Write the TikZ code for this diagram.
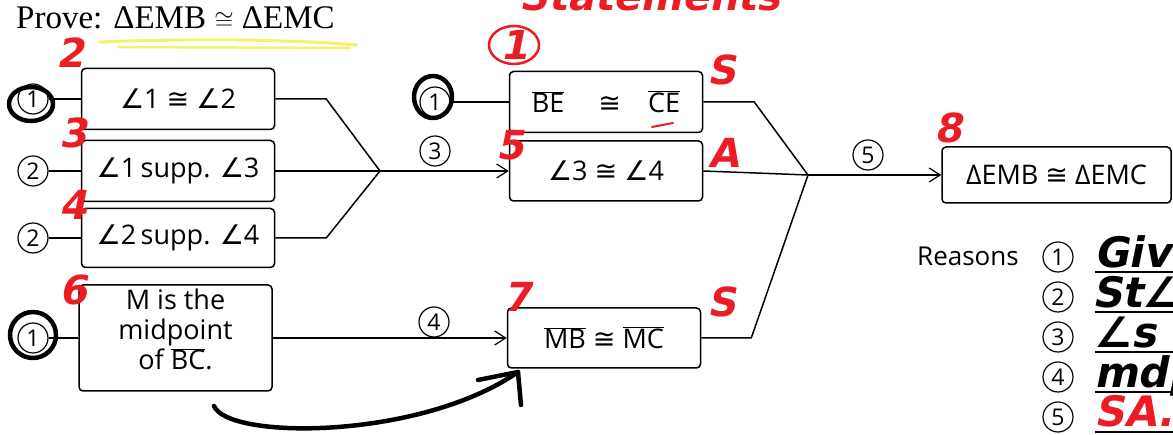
\documentclass[tikz,border=0pt]{standalone}
\usepackage{fontspec}
\setmainfont{Open Sans}
\newfontfamily\provefont{Liberation Serif}
\newfontfamily\glyphfont{DejaVu Sans}
\newfontfamily\handfont[FakeSlant=0.2]{DejaVu Sans}
\usetikzlibrary{arrows.meta}

\definecolor{inkred}{RGB}{236,28,36}
\definecolor{marker}{RGB}{246,240,110}
\newcommand\ang{{\glyphfont ∠}}
\newcommand\cng{{\glyphfont ≅}}
\newcommand\seg[1]{\ensuremath{\overline{\hbox{#1}}}}

\tikzset{
  stmt/.style={draw, line width=1.5pt, rounded corners=4pt, minimum width=193pt,
    minimum height=61pt, inner sep=2pt, align=center, font=\fontsize{27}{30}\selectfont},
  rsn/.style={circle, draw, line width=1.2pt, minimum size=30pt, inner sep=0pt,
    font=\fontsize{23}{23}\selectfont},
  flow/.style={line width=1.5pt},
  flowarrow/.style={flow, -{Straight Barb[length=11pt,width=14pt,line width=1.2pt]}},
  inkmark/.style={text=inkred, inner sep=0pt, font=\handfont\bfseries\fontsize{40}{40}\selectfont},
  inkword/.style={inner sep=0pt, anchor=base west, font=\handfont\bfseries\fontsize{42}{42}\selectfont},
  pen/.style={line width=4.5pt, line cap=round, line join=round},
}

\begin{document}
\begin{tikzpicture}[x=1pt,y=1pt]
\useasboundingbox (0,0) rectangle (1173,435);
\clip (0,0) rectangle (1173,435);

% what is to be proved
\draw[marker, line width=3pt, line cap=round] (100,393) .. controls (200,397) and (300,395) .. (357,390);
\draw[marker, line width=2.5pt, line cap=round] (118,388) -- (350,387);
\node[anchor=base west, inner sep=0pt, font=\provefont\fontsize{33}{33}\selectfont] (prove)
  at (16,406) {Prove: ΔEMB $\cong$ ΔEMC};

% statements
\node[stmt] (ang12) at (178,336) {\ang1 \cng{} \ang2};
\node[stmt] (supp13) at (178,264) {\ang1\,supp. \ang3};
\node[stmt, minimum height=59pt] (supp24) at (178,197) {\ang2\,supp. \ang4};
\node[stmt, minimum height=106pt, text depth=17pt] (midpt) at (175.5,97)
  {M is the\\midpoint\\of \seg{BC}.};
\node[stmt] (segBE) at (606,333) {\seg{BE} \quad\cng\quad \seg{CE}};
\node[stmt, minimum height=60pt] (ang34) at (606,264) {\ang3 \cng{} \ang4};
\node[stmt, minimum height=60pt] (segMB) at (604,97) {\seg{MB} \cng{} \seg{MC}};
\node[stmt, minimum width=229pt, minimum height=56pt] (tri) at (1056.5,260) {ΔEMB \cng{} ΔEMC};

% given facts and theorems on the left
\node[rsn] (g1) at (33,336) {1};
\node[rsn] (s1) at (33,264) {2};
\node[rsn] (s2) at (33,197) {2};
\node[rsn] (g2) at (33,97) {1};
\node[rsn] (g3) at (435,333) {1};
\draw[flow] (g1) -- (ang12);
\draw[flow] (s1) -- (supp13);
\draw[flow] (s2) -- (supp24);
\draw[flow] (g2) -- (midpt);
\draw[flow] (g3) -- (segBE);

% first merge
\coordinate (j1) at (380,264);
\draw[flow] (ang12.east) -- ++(51,0) -- (j1);
\draw[flow] (supp13.east) -- (j1);
\draw[flow] (supp24.east) -- ++(51,0) -- (j1);
\draw[flowarrow] (j1) -- (ang34.west);
\node[rsn] (r3) at (435,284) {3};

\draw[flowarrow] (midpt.east) -- (segMB.west);
\node[rsn] (r4) at (434,113) {4};

% second merge
\coordinate (j2) at (808,260);
\draw[flow] (segBE.east) -- ++(51,0) -- (j2);
\draw[flow] (ang34.east) -- (j2);
\draw[flow] (segMB.east) -- ++(50,0) -- (j2);
\draw[flowarrow] (j2) -- (tri.west);
\node[rsn] (r5) at (868,280) {5};

% reasons
\node[anchor=base west, inner sep=0pt, font=\fontsize{26}{26}\selectfont] (rlabel) at (917,169) {Reasons};
\foreach \k/\y in {1/178,2/138,3/98,4/58,5/18}{
  \node[rsn] (key\k) at (1058,\y) {\k};
  \draw[line width=1.5pt] (1095,\y-15) -- (1173,\y-15);
}
\node[inkword] (w1) at (1094,167) {Giv};
\node[inkword] (w2) at (1092,127) {St\ang};
\node[inkword] (w3) at (1094,87) {\ang s S};
\node[inkword] (w4) at (1094,47) {mdp};
\node[inkword, text=inkred] (w5) at (1094,8) {SA.};

% red marks
\node[inkmark, anchor=base] (head) at (650,424) {Statements};
\node[inkmark] (n2) at (70,382) {2};
\node[inkmark] (n3) at (73,302) {3};
\node[inkmark] (n4) at (73,230) {4};
\node[inkmark] (n6) at (73,145) {6};
\node[inkmark] (n1) at (514,390) {1};
\draw[inkred, line width=2.5pt] (n1) ellipse (25pt and 19pt);
\node[inkmark] (nS1) at (722,365) {S};
\node[inkmark] (n5) at (510,290) {5};
\node[inkmark] (nA) at (724,282) {A};
\node[inkmark] (n7) at (517,138) {7};
\node[inkmark] (nS2) at (722,133) {S};
\node[inkmark] (n8) at (948,307) {8};
\draw[inkred, line width=2pt, line cap=round] (652,308) -- (673,312);

% black pen marks
\draw[pen] (31,331) ellipse (22pt and 17pt);
\draw[pen] (33,100) ellipse (23pt and 23pt);
\draw[pen] (433,338) ellipse (19pt and 21pt);
\coordinate (tail) at (214,29);
\coordinate (tip) at (518,63);
\draw[pen] (tail) .. controls (228,-5) and (420,-5) .. (tip);
\draw[pen] (478,55) -- (tip) -- (521,30);
\end{tikzpicture}
\end{document}
